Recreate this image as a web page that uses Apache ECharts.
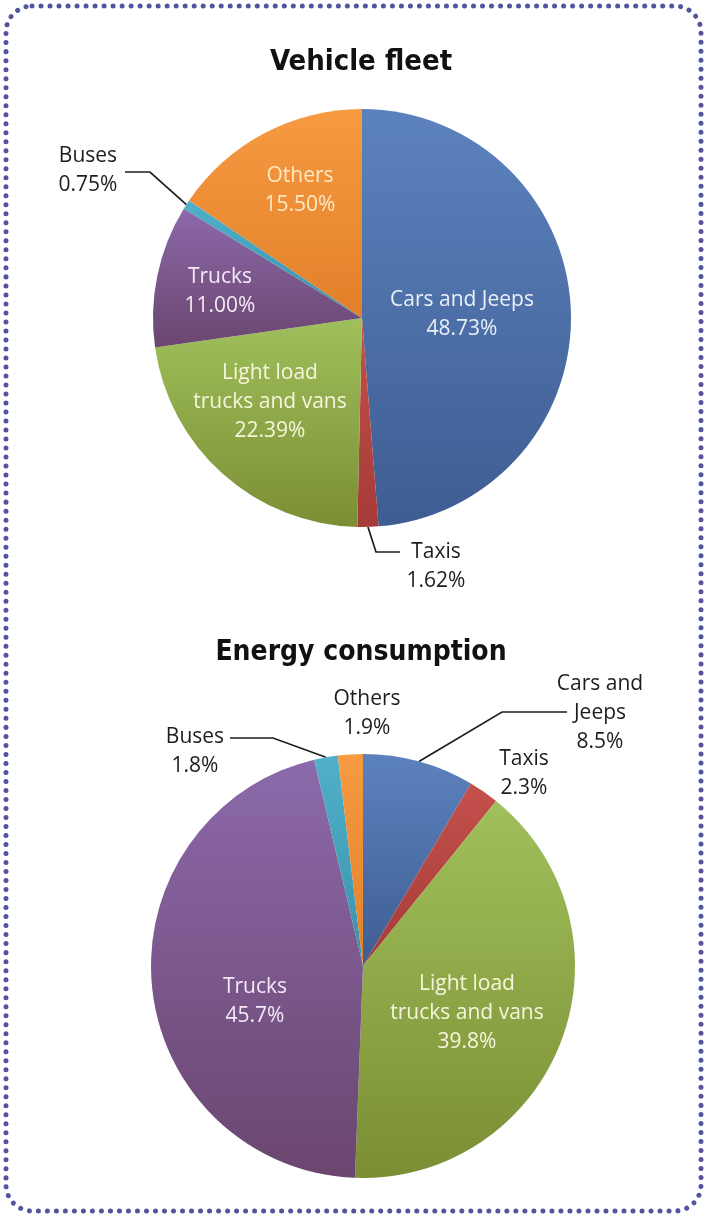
<!DOCTYPE html>
<html>
<head>
<meta charset="utf-8">
<script src="https://cdn.jsdelivr.net/npm/echarts@6/dist/echarts.min.js"></script>
<style>
  html, body { margin: 0; padding: 0; background: #ffffff; }
  #chart { width: 707px; height: 1216px; }
</style>
</head>
<body>
<div id="chart"></div>
<script>
// Vehicle categories, in clockwise order from 12 o'clock
const categories = ['Cars and Jeeps', 'Taxis', 'Light load trucks and vans', 'Trucks', 'Buses', 'Others'];
// Label text per chart (line breaks differ between the two pies)
const fleetLabelNames = ['Cars and Jeeps', 'Taxis', 'Light load\ntrucks and vans', 'Trucks', 'Buses', 'Others'];
const energyLabelNames = ['Cars and\nJeeps', 'Taxis', 'Light load\ntrucks and vans', 'Trucks', 'Buses', 'Others'];
// Shares in percent
const fleetShare = [48.73, 1.62, 22.39, 11.00, 0.75, 15.50];
const energyShare = [8.5, 2.3, 39.8, 45.7, 1.8, 1.9];
const titles = ['Vehicle fleet', 'Energy consumption'];

// Slice fills: [top, bottom] of a vertical gradient
const sliceColors = [
  ['#5c82bd', '#3e5d92'],
  ['#c4504c', '#a53b38'],
  ['#a0c05c', '#7b8e34'],
  ['#8c69aa', '#6a466f'],
  ['#50b0ca', '#3a91a9'],
  ['#f79a42', '#e2802a']
];
// Text colour of labels sitting on each slice
const insideText = ['#eaf0f8', '#ffffff', '#f6f6dc', '#f6e9f6', '#ffffff', '#fde9c2'];
const darkText = '#1f1c1d';
const fontFamily = '"Open Sans", Lato, sans-serif';
const titleFont = '"DejaVu Sans Condensed", "DejaVu Sans", sans-serif';

// Label placement for each pie: centre of the text block, and for outside
// labels the elbow and end of the leader line.
const fleetSpots = [
  { x: 462, y: 315 },
  { x: 436, y: 567, elbow: [376, 552], end: [400, 552] },
  { x: 270, y: 402 },
  { x: 220, y: 292 },
  { x: 88, y: 171, elbow: [150, 172], end: [125, 172] },
  { x: 300, y: 191 }
];
const energySpots = [
  { x: 600, y: 713, elbow: [502, 712], end: [567, 712] },
  { x: 524, y: 774, plain: true },
  { x: 467, y: 1013 },
  { x: 255, y: 1002 },
  { x: 195, y: 752, elbow: [273, 738], end: [230, 738] },
  { x: 367, y: 714, plain: true }
];

function gradient(i) {
  return new echarts.graphic.LinearGradient(0, 0, 0, 1, [
    { offset: 0, color: sliceColors[i][0] },
    { offset: 1, color: sliceColors[i][1] }
  ]);
}

function buildData(values, labelNames, spots, digits) {
  return values.map(function (v, i) {
    const outside = !!(spots[i].elbow || spots[i].plain);
    return {
      name: categories[i],
      value: v,
      itemStyle: { color: gradient(i) },
      label: {
        position: outside ? 'outside' : 'inside',
        color: outside ? darkText : insideText[i],
        formatter: labelNames[i] + '\n' + v.toFixed(digits) + '%'
      },
      labelLine: { show: !!spots[i].elbow }
    };
  });
}

function layoutFor(values, spots, cx, cy, r) {
  const total = values.reduce(function (a, b) { return a + b; }, 0);
  return function (p) {
    const s = spots[p.dataIndex];
    const out = { x: s.x, y: s.y, align: 'center', verticalAlign: 'middle' };
    if (s.elbow) {
      let before = 0;
      for (let k = 0; k < p.dataIndex; k++) before += values[k];
      const mid = (before + values[p.dataIndex] / 2) / total * Math.PI * 2;
      const ax = cx + r * Math.sin(mid);
      const ay = cy - r * Math.cos(mid);
      out.labelLinePoints = [[ax, ay], s.elbow, s.end];
    }
    return out;
  };
}

function pieSeries(values, labelNames, spots, digits, cx, cy, r) {
  return {
    type: 'pie',
    center: [cx, cy],
    radius: r,
    startAngle: 90,
    clockwise: true,
    silent: true,
    animation: false,
    avoidLabelOverlap: false,
    itemStyle: { borderWidth: 0 },
    label: {
      show: true,
      fontFamily: fontFamily,
      fontSize: 21,
      lineHeight: 29,
      align: 'center'
    },
    labelLine: {
      lineStyle: { color: darkText, width: 1.7 },
      smooth: false
    },
    labelLayout: layoutFor(values, spots, cx, cy, r),
    data: buildData(values, labelNames, spots, digits)
  };
}

const chart = echarts.init(document.getElementById('chart'), null, { renderer: 'canvas' });
chart.setOption({
  backgroundColor: '#ffffff',
  animation: false,
  title: [
    {
      text: titles[0], left: 356, top: 43, textAlign: 'center',
      textStyle: { fontFamily: titleFont, fontWeight: 'bold', fontSize: 29, color: '#111111' }
    },
    {
      text: titles[1], left: 356, top: 634, textAlign: 'center',
      textStyle: { fontFamily: titleFont, fontWeight: 'bold', fontSize: 28, color: '#111111' }
    }
  ],
  graphic: [
    {
      // dotted frame round the panel
      type: 'rect',
      silent: true,
      shape: { x: 6, y: 6, width: 695, height: 1205, r: 26 },
      style: { fill: 'none', stroke: '#52559e', lineWidth: 5, lineDash: [0.01, 9], lineCap: 'round' }
    }
  ],
  series: [
    pieSeries(fleetShare, fleetLabelNames, fleetSpots, 2, 362, 318, 209),
    pieSeries(energyShare, energyLabelNames, energySpots, 1, 363, 966, 212)
  ]
});
</script>
</body>
</html>
